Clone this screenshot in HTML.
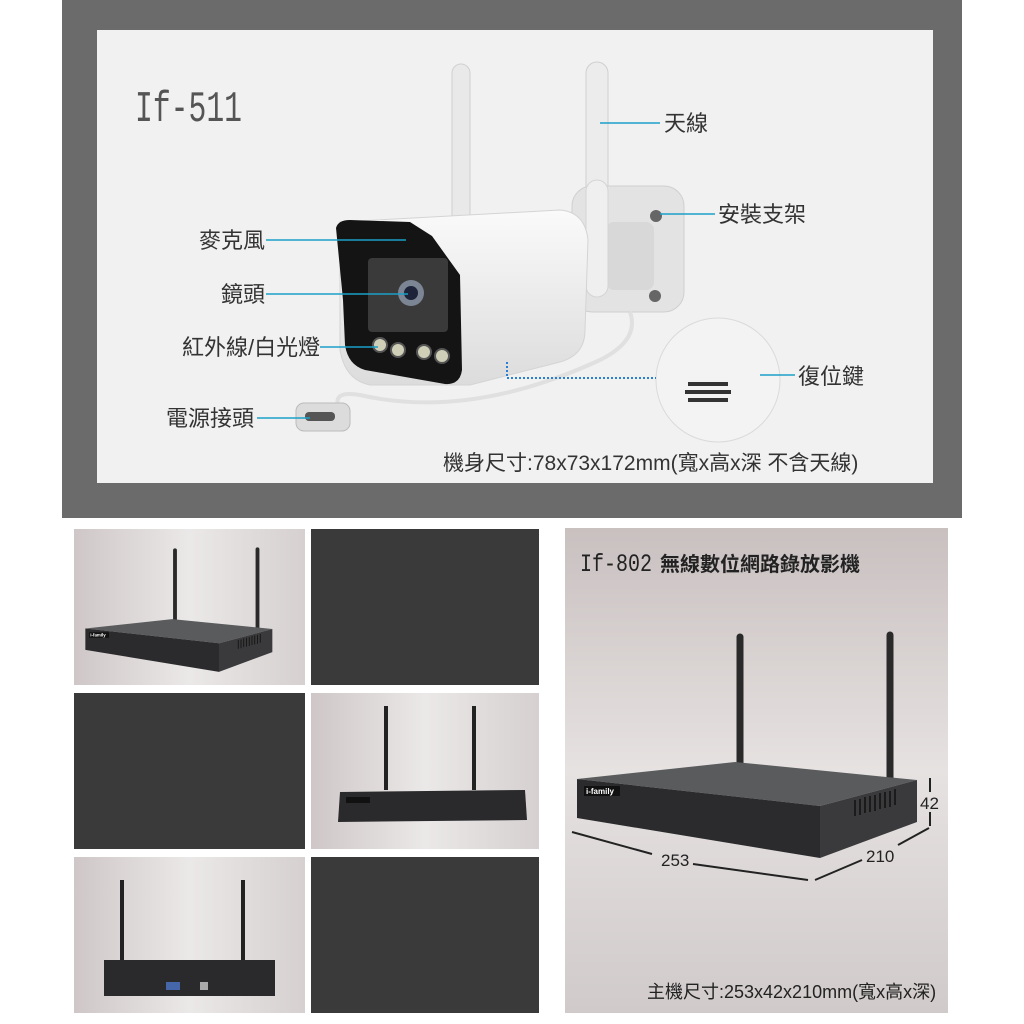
<!DOCTYPE html>
<html><head><meta charset="utf-8"><style>
html,body{margin:0;padding:0;background:#fff}
svg{display:block}
text{font-family:"Liberation Sans","Noto Sans CJK TC",sans-serif}
</style></head><body>
<svg width="1024" height="1024" viewBox="0 0 1024 1024" xmlns="http://www.w3.org/2000/svg">
<defs>
<linearGradient id="pbg" x1="0" y1="0" x2="0" y2="1"><stop offset="0" stop-color="#c9c0c0"/><stop offset="0.5" stop-color="#e6e2e1"/><stop offset="1" stop-color="#d0caca"/></linearGradient>
<linearGradient id="tbg" x1="0" y1="0" x2="1" y2="0"><stop offset="0" stop-color="#cfc7c7"/><stop offset="0.5" stop-color="#ebe8e8"/><stop offset="1" stop-color="#d6d0d0"/></linearGradient>
<linearGradient id="body" x1="0" y1="0" x2="0" y2="1"><stop offset="0" stop-color="#fafafa"/><stop offset="1" stop-color="#dcdcdc"/></linearGradient>
<g id="nvr">
<line x1="740" y1="637" x2="740" y2="768" stroke="#2a2a2a" stroke-width="7" stroke-linecap="round"/>
<line x1="890" y1="635" x2="890" y2="778" stroke="#2a2a2a" stroke-width="7" stroke-linecap="round"/>
<polygon points="577,779 735,762 917,780 820,806" fill="#5a5b5d"/>
<polygon points="577,779 820,806 820,858 577,818" fill="#2b2b2d"/>
<polygon points="820,806 917,780 917,822 820,858" fill="#3a3a3c"/>
<rect x="584" y="786" width="36" height="10" fill="#111"/>
<text x="586" y="794" font-size="8" fill="#fff" font-weight="bold">i-family</text>
<g stroke="#111" stroke-width="1.5"><line x1="855" y1="800" x2="855" y2="816"/><line x1="860" y1="799" x2="860" y2="815"/><line x1="865" y1="797" x2="865" y2="813"/><line x1="870" y1="796" x2="870" y2="812"/><line x1="875" y1="795" x2="875" y2="811"/><line x1="880" y1="793" x2="880" y2="809"/><line x1="885" y1="792" x2="885" y2="808"/><line x1="890" y1="791" x2="890" y2="807"/><line x1="895" y1="789" x2="895" y2="805"/></g>
</g>
</defs>

<rect x="62" y="0" width="900" height="518" fill="#6b6b6b"/>
<rect x="97" y="30" width="836" height="453" fill="#f1f1f1"/>
<text x="135" y="121" font-size="44" fill="#555" style="font-family:'Liberation Mono',monospace" textLength="107" lengthAdjust="spacingAndGlyphs">If-511</text>

<rect x="452" y="64" width="18" height="170" rx="9" fill="#e9e9e9" stroke="#d0d0d0"/>
<rect x="586" y="62" width="22" height="235" rx="11" fill="#ececec" stroke="#cfcfcf"/>
<rect x="572" y="186" width="112" height="126" rx="20" fill="#e3e3e3" stroke="#cfcfcf"/>
<rect x="606" y="222" width="48" height="68" rx="8" fill="#d8d8d8"/>
<rect x="586" y="180" width="22" height="117" rx="11" fill="#efefef" stroke="#d4d4d4"/>
<circle cx="656" cy="216" r="6" fill="#666"/><circle cx="655" cy="296" r="6" fill="#666"/>
<path d="M340,222 L560,210 Q585,212 588,240 L585,330 Q585,355 560,362 L470,385 L370,385 Q345,380 340,350 Z" fill="url(#body)" stroke="#d4d4d4"/>
<path d="M336,228 Q338,220 350,220 L410,222 L432,236 L460,275 L462,370 Q460,385 445,384 L365,370 Q348,365 345,345 L343,300 Z" fill="#141414"/>
<rect x="368" y="258" width="80" height="74" rx="4" fill="#3a3a3a"/>
<circle cx="411" cy="293" r="13" fill="#7b8594"/><circle cx="411" cy="293" r="7" fill="#1d2338"/>
<g fill="#cfcfb8" stroke="#555" stroke-width="2"><circle cx="380" cy="345" r="7"/><circle cx="398" cy="350" r="7"/><circle cx="424" cy="352" r="7"/><circle cx="442" cy="356" r="7"/></g>
<path d="M630,312 Q640,340 600,360 Q470,420 360,395 Q330,390 340,410" fill="none" stroke="#e0e0e0" stroke-width="4"/>
<rect x="296" y="403" width="54" height="28" rx="8" fill="#dcdcdc" stroke="#bbb"/>
<rect x="305" y="412" width="30" height="9" rx="4" fill="#555"/>
<circle cx="718" cy="380" r="62" fill="#f3f3f3" stroke="#dadada"/>
<g fill="#333"><rect x="688" y="382" width="40" height="4"/><rect x="685" y="390" width="46" height="4"/><rect x="688" y="398" width="40" height="4"/></g>
<path d="M507,362 V378 H656" fill="none" stroke="#2a7fd4" stroke-width="2" stroke-dasharray="2,2"/>

<g stroke="#1aa0c8" stroke-width="1.5">
<line x1="600" y1="123" x2="660" y2="123"/>
<line x1="660" y1="214" x2="715" y2="214"/>
<line x1="266" y1="240" x2="406" y2="240"/>
<line x1="266" y1="294" x2="408" y2="294"/>
<line x1="320" y1="347" x2="378" y2="347"/>
<line x1="760" y1="375" x2="795" y2="375"/>
<line x1="257" y1="418" x2="310" y2="418"/>
</g>
<g font-size="22" fill="#333">
<text x="664" y="131">天線</text>
<text x="718" y="222">安裝支架</text>
<text x="199" y="248">麥克風</text>
<text x="221" y="302">鏡頭</text>
<text x="182" y="355">紅外線/白光燈</text>
<text x="798" y="384">復位鍵</text>
<text x="166" y="426">電源接頭</text>
<text x="443" y="470" font-size="21">機身尺寸:78x73x172mm(寬x高x深 不含天線)</text>
</g>

<rect x="74" y="529" width="231" height="156" fill="url(#tbg)"/>
<rect x="311" y="529" width="228" height="156" fill="#3b3a3b"/>
<rect x="74" y="693" width="231" height="156" fill="#3b3a3b"/>
<rect x="311" y="693" width="228" height="156" fill="url(#tbg)"/>
<rect x="74" y="857" width="231" height="156" fill="url(#tbg)"/>
<rect x="311" y="857" width="228" height="156" fill="#3b3a3b"/>
<use href="#nvr" transform="translate(-232,200) scale(0.55)"/>
<line x1="386" y1="706" x2="386" y2="790" stroke="#222" stroke-width="4"/>
<line x1="474" y1="706" x2="474" y2="790" stroke="#222" stroke-width="4"/>
<polygon points="340,792 525,790 527,820 338,822" fill="#2a2a2c"/>
<rect x="346" y="797" width="24" height="6" fill="#111"/>
<line x1="122" y1="880" x2="122" y2="962" stroke="#222" stroke-width="4"/>
<line x1="243" y1="880" x2="243" y2="962" stroke="#222" stroke-width="4"/>
<rect x="104" y="960" width="171" height="36" fill="#2a2a2c"/>
<rect x="166" y="982" width="14" height="8" fill="#4666aa"/>
<rect x="200" y="982" width="8" height="8" fill="#aaa"/>

<rect x="565" y="528" width="383" height="485" fill="url(#pbg)"/>
<text x="580" y="571" font-size="25" fill="#222" style="font-family:'Liberation Mono',monospace" textLength="72" lengthAdjust="spacingAndGlyphs">If-802</text>
<text x="660" y="571" font-size="20" fill="#222" font-weight="bold">無線數位網路錄放影機</text>
<use href="#nvr"/>
<g stroke="#222" stroke-width="2">
<line x1="572" y1="832" x2="652" y2="854"/><line x1="693" y1="864" x2="808" y2="880"/>
<line x1="815" y1="880" x2="862" y2="860"/><line x1="898" y1="845" x2="929" y2="828"/>
<line x1="930" y1="778" x2="930" y2="792"/><line x1="930" y1="812" x2="930" y2="826"/>
</g>
<text x="661" y="866" font-size="17" fill="#222">253</text>
<text x="866" y="862" font-size="17" fill="#222">210</text>
<text x="920" y="809" font-size="17" fill="#222">42</text>
<text x="647" y="998" font-size="18" fill="#222">主機尺寸:253x42x210mm(寬x高x深)</text>
</svg>
</body></html>
